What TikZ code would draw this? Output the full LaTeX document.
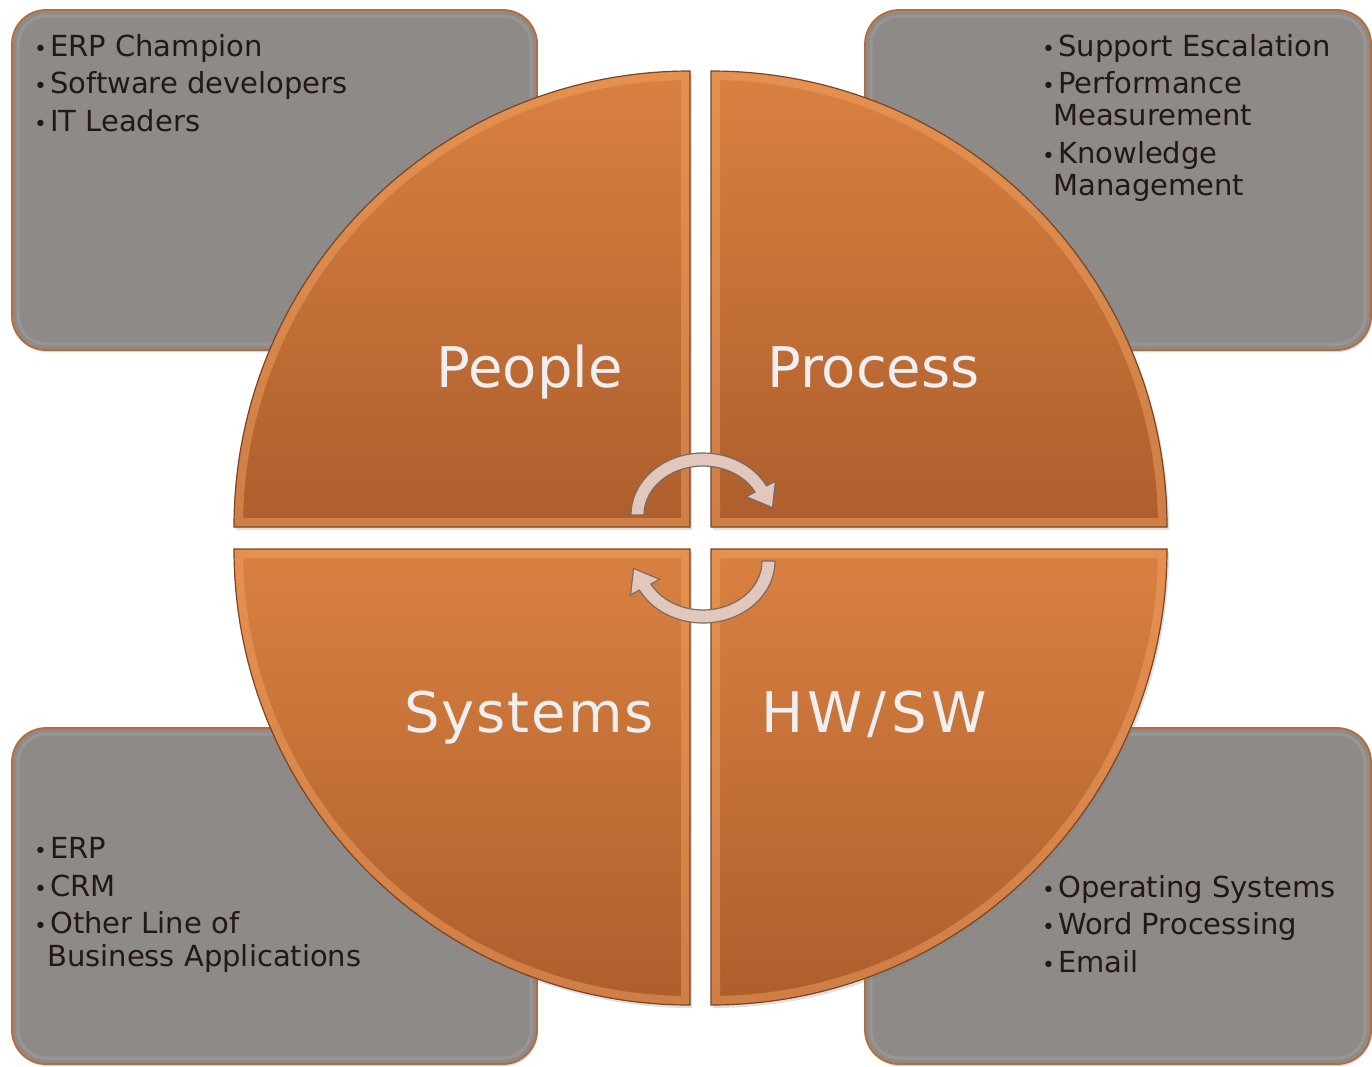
\documentclass[tikz,border=0pt]{standalone}
\usepackage{fontspec}
\setmainfont{DejaVu Sans}
\usetikzlibrary{shadows}
\definecolor{boxgray}{HTML}{8E8A87}
\definecolor{boxedge}{HTML}{B86A38}
\definecolor{qtop}{HTML}{D98141}
\definecolor{qbot}{HTML}{AD5E2C}
\definecolor{qbevel}{HTML}{F0A060}
\definecolor{qedge}{HTML}{7B4423}
\definecolor{txtdark}{HTML}{231815}
\definecolor{arrowfill}{HTML}{E2C8BC}
\definecolor{arrowedge}{HTML}{7C6A62}
\definecolor{labelwhite}{HTML}{EFEFF1}
\newfontfamily\widelabel[LetterSpace=3.5]{DejaVu Sans}
\newfontfamily\widerlabel[LetterSpace=8]{DejaVu Sans}
\newcommand\bul{\makebox[13pt][l]{\kern-3pt\scalebox{0.75}{•}}}
\newcommand\pPeople{(690,-527) -- (690,-71) arc[start angle=90,end angle=180,radius=456] -- cycle}
\newcommand\pProcess{(711,-527) -- (1167,-527) arc[start angle=0,end angle=90,radius=456] -- cycle}
\newcommand\pSystems{(690,-549) -- (234,-549) arc[start angle=180,end angle=270,radius=456] -- cycle}
\newcommand\pHwsw{(711,-549) -- (711,-1005) arc[start angle=270,end angle=360,radius=456] -- cycle}
\newcommand\pCycle{(631,-515) arc[start angle=180,end angle=28,x radius=72,y radius=62] -- (775.4,-481.2) -- (772.5,-507.6) -- (746.3,-496.7) -- (755.1,-492.0) arc[start angle=28,end angle=180,x radius=59,y radius=49] -- cycle}
\tikzset{
  infobox/.style={fill=boxgray, draw=boxedge, line width=1.8, rounded corners=34,
    drop shadow={shadow xshift=1, shadow yshift=-2, opacity=0.3}},
  boxbevel/.style={draw=white, opacity=0.10, line width=3, rounded corners=28},
  quadfill/.style={top color=qtop, bottom color=qbot,
    drop shadow={shadow xshift=2, shadow yshift=-3, opacity=0.25}},
  quadbevel/.style={draw=qbevel, line width=18, opacity=0.5},
  quadedge/.style={draw=qedge, line width=1.2},
  cyclearrow/.style={fill=arrowfill, draw=arrowedge, line width=1.2},
  bigtext/.style={anchor=base, inner sep=0, text=labelwhite, font=\fontsize{56}{60}\selectfont},
  bt/.style={anchor=base west, inner sep=0, text=txtdark, font=\fontsize{29}{30}\selectfont}
}
\begin{document}
\begin{tikzpicture}[x=1pt,y=1pt]
\useasboundingbox (0,0) rectangle (1372,-1066);
\fill[white] (0,0) rectangle (1372,-1066);
\begin{scope}
\clip (0,0) rectangle (1372,-1066);
% gray boxes
\path[infobox] (12,-10) rectangle (537,-350);
\path[boxbevel] (18,-16) rectangle (531,-344);
\path[infobox] (865,-10) rectangle (1371,-350);
\path[boxbevel] (871,-16) rectangle (1365,-344);
\path[infobox] (12,-728) rectangle (537,-1064);
\path[boxbevel] (18,-734) rectangle (531,-1058);
\path[infobox] (865,-728) rectangle (1371,-1064);
\path[boxbevel] (871,-734) rectangle (1365,-1058);
\end{scope}
% quadrants
\foreach \qp in {\pPeople,\pProcess,\pSystems,\pHwsw}{
  \shade[quadfill] \qp;
  \begin{scope}
    \clip \qp;
    \path[quadbevel] \qp;
  \end{scope}
  \path[quadedge] \qp;
}
% labels
\node[bigtext] (people) at (529.5,-387) {People};
\node[bigtext] (process) at (873.5,-387) {Process};
\node[bigtext] (systems) at (529,-732) {\widelabel Systems};
\node[bigtext] (hwsw) at (874,-732) {\widerlabel HW/SW};
% cycle arrows
\path[cyclearrow] \pCycle;
\begin{scope}[rotate around={180:(703,-538)}]
\path[cyclearrow] \pCycle;
\end{scope}
% bullet texts
\node[bt] (tl1) at (37,-56) {\bul ERP Champion};
\node[bt] (tl2) at (37,-93.5) {\bul Software developers};
\node[bt] (tl3) at (37,-131) {\bul IT Leaders};
\node[bt] (tr1) at (1045,-56.5) {\bul Support Escalation};
\node[bt] (tr2) at (1045,-93) {\bul Performance};
\node[bt] (tr3) at (1053,-125) {Measurement};
\node[bt] (tr4) at (1045,-163) {\bul Knowledge};
\node[bt] (tr5) at (1053,-195) {Management};
\node[bt] (bl1) at (37,-858) {\bul ERP};
\node[bt] (bl2) at (37,-896.5) {\bul CRM};
\node[bt] (bl3) at (37,-933) {\bul Other Line of};
\node[bt] (bl4) at (47,-966) {Business Applications};
\node[bt] (br1) at (1045,-897) {\bul Operating Systems};
\node[bt] (br2) at (1045,-934) {\bul Word Processing};
\node[bt] (br3) at (1045,-972) {\bul Email};
\end{tikzpicture}
\end{document}
